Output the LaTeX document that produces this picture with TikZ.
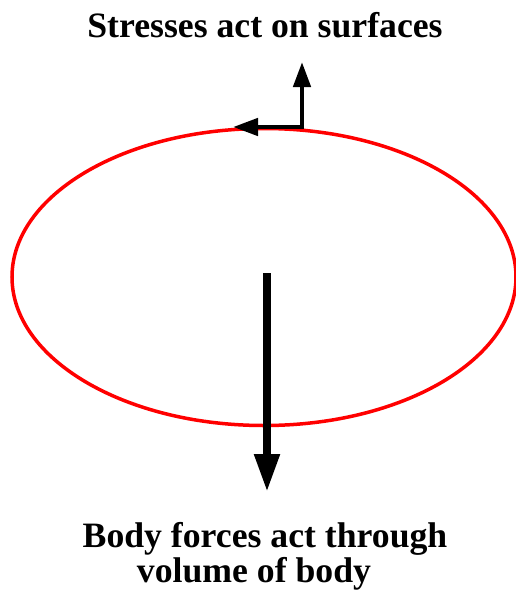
\documentclass[tikz,border=0pt]{standalone}
\usepackage{fontspec}
\setmainfont{Liberation Serif}
\usetikzlibrary{arrows.meta,shapes.geometric}
\begin{document}
\begin{tikzpicture}[x=1pt,y=-1pt,
  txt/.style={font=\fontsize{35.7}{38}\selectfont\bfseries, inner sep=0pt, anchor=base},
  thinarrow/.style={line width=4.5pt, -{Triangle[length=25pt,width=17pt]}},
  thickarrow/.style={line width=8pt, -{Triangle[length=38pt,width=24pt]}}]
\useasboundingbox (0,0) rectangle (515,592);
\node[draw=red, line width=3.5pt, ellipse, minimum width=504pt, minimum height=297pt, inner sep=0pt] (body) at (264,277) {};
\node[txt] (top) at (265,37) {Stresses act on surfaces};
\node[txt] (b1) at (265,547) {Body forces act through};
\node[txt] (b2) at (254,582) {volume of body};
\coordinate (corner) at (302,127);
\coordinate (tipU) at (302,62);
\coordinate (tipL) at (233,127);
\draw[thinarrow] ([yshift=2.25pt]corner) -- (tipU);
\draw[thinarrow] ([xshift=2.25pt]corner) -- (tipL);
\coordinate (bstart) at (267,273);
\coordinate (btip) at (267,492);
\draw[thickarrow] (bstart) -- (btip);
\end{tikzpicture}
\end{document}
